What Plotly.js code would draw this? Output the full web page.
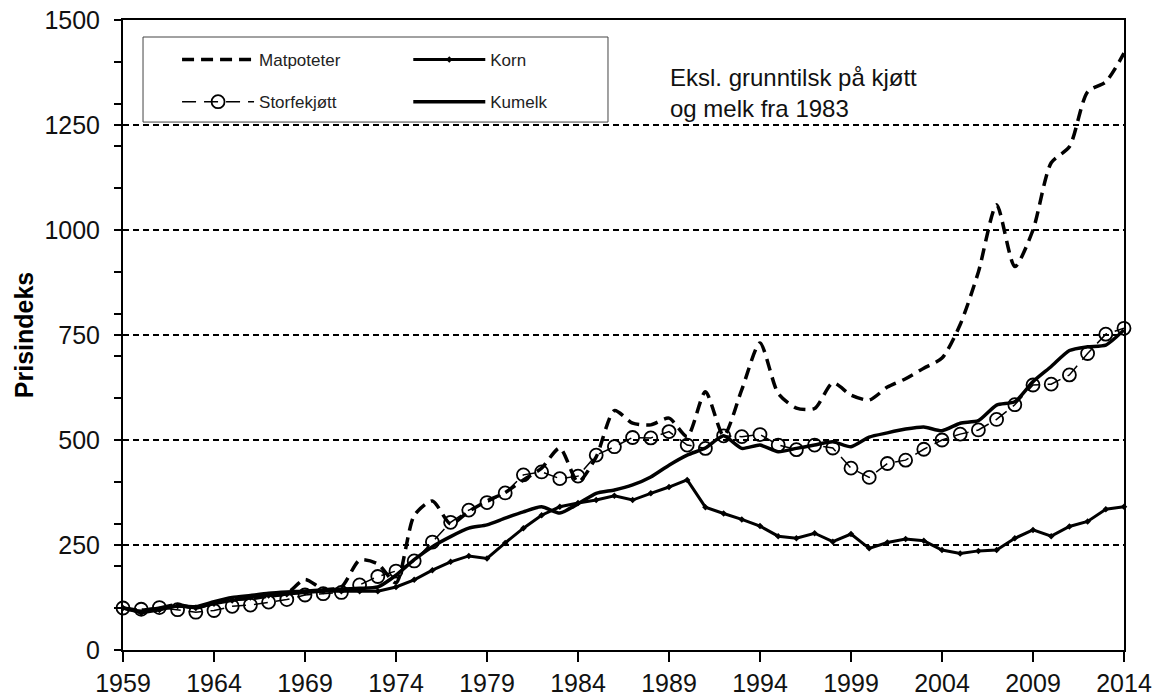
<!DOCTYPE html>
<html><head><meta charset="utf-8">
<script src="https://cdn.plot.ly/plotly-3.0.1.min.js"></script>
<style>html,body{margin:0;padding:0;background:#fff}#chart{width:1163px;height:700px}</style>
</head><body><div id="chart"></div>
<script>
const years = [1959,1960,1961,1962,1963,1964,1965,1966,1967,1968,
  1969,1970,1971,1972,1973,1974,1975,1976,1977,1978,
  1979,1980,1981,1982,1983,1984,1985,1986,1987,1988,
  1989,1990,1991,1992,1993,1994,1995,1996,1997,1998,
  1999,2000,2001,2002,2003,2004,2005,2006,2007,2008,
  2009,2010,2011,2012,2013,2014];

const matpoteter = [100,95,100,108,100,112,120,122,128,135,
  168,145,150,214,205,160,320,355,300,330,
  355,375,405,433,481,400,460,570,540,536,
  552,508,615,510,620,731,611,576,575,636,
  607,595,626,646,671,695,775,900,1060,913,
  1000,1160,1198,1329,1353,1421];

const storfekjott = [100,97,101,96,90,94,104,107,114,120,
  131,134,137,155,175,188,212,257,304,333,
  351,374,417,424,408,414,464,484,506,505,
  520,488,480,510,508,513,488,477,488,481,
  433,411,444,452,478,500,514,524,549,584,
  631,633,655,706,752,766];

const korn = [100,88,95,105,100,110,118,125,130,133,
  137,140,140,140,140,150,167,190,210,224,
  218,255,290,321,341,350,357,367,357,373,
  388,405,340,325,311,295,271,266,278,258,
  276,242,256,264,260,238,230,236,238,266,
  286,271,294,306,335,341];

const kumelk = [100,92,100,105,103,115,125,130,135,138,
  140,143,145,147,150,178,215,246,270,290,
  298,314,329,341,326,348,373,381,393,412,
  440,464,481,510,480,488,472,480,488,496,
  484,507,517,526,531,522,540,546,583,591,
  639,675,713,722,726,762];

const xTicks = [1959,1964,1969,1974,1979,1984,1989,1994,1999,2004,2009,2014];
const yMinorTicks = [0,100,200,250,300,400,500,600,700,750,800,900,1000,1100,1200,1250,1300,1400,1500];

const FONT = 'Liberation Sans, Arial, sans-serif';

const traces = [
  {x: years, y: matpoteter, name: 'Matpoteter', type: 'scatter', mode: 'lines',
   line: {color: '#000', width: 3.5, dash: '12px,7px', shape: 'spline', smoothing: 0.7},
   legend: 'legend', legendgroup: 'a', cliponaxis: false},
  {x: years, y: storfekjott, name: 'Storfekjøtt', type: 'scatter', mode: 'lines+markers',
   line: {color: '#000', width: 1.5, dash: '14px,8px'},
   marker: {symbol: 'circle-open', size: 13, color: '#000', line: {width: 1.8, color: '#000'}},
   legend: 'legend', legendgroup: 'b', cliponaxis: false},
  {x: years, y: korn, name: 'Korn', type: 'scatter', mode: 'lines+markers',
   line: {color: '#000', width: 3},
   marker: {symbol: 'diamond', size: 5, color: '#000'},
   legend: 'legend2', legendgroup: 'c', cliponaxis: false},
  {x: years, y: kumelk, name: 'Kumelk', type: 'scatter', mode: 'lines',
   line: {color: '#000', width: 3.5, shape: 'spline', smoothing: 0.6},
   legend: 'legend2', legendgroup: 'd', cliponaxis: false}
];

const legendBase = {
  yanchor: 'top', xanchor: 'left', y: 0.965,
  bgcolor: 'rgba(0,0,0,0)', borderwidth: 0,
  font: {family: FONT, size: 17, color: '#222'},
  itemwidth: 72, tracegroupgap: 17, traceorder: 'grouped'
};

const layout = {
  width: 1163, height: 700,
  margin: {l: 123, r: 39, t: 20, b: 50},
  paper_bgcolor: '#fff', plot_bgcolor: '#fff',
  font: {family: FONT, color: '#000'},
  showlegend: true,
  legend: Object.assign({}, legendBase, {x: 0.054}),
  legend2: Object.assign({}, legendBase, {x: 0.285}),
  xaxis: {
    range: [1959, 2014], tickmode: 'array', tickvals: xTicks,
    ticks: 'outside', ticklen: 10, tickwidth: 1.5, tickcolor: '#000',
    showline: true, linewidth: 2, linecolor: '#000', mirror: true,
    showgrid: false, zeroline: false,
    tickfont: {family: FONT, size: 25, color: '#111'}
  },
  yaxis: {
    range: [0, 1500], tickmode: 'linear', tick0: 0, dtick: 250,
    ticks: 'outside', ticklen: 7, tickwidth: 1.5, tickcolor: '#000',
    minor: {tickmode: 'linear', tick0: 0, dtick: 100, ticks: 'outside', ticklen: 7, tickwidth: 1.5, tickcolor: '#000', showgrid: false},
    showline: true, linewidth: 2, linecolor: '#000', mirror: true,
    showgrid: true, gridcolor: '#000', gridwidth: 1.5, griddash: '6px,4px',
    zeroline: false,
    tickfont: {family: FONT, size: 25, color: '#111'},
    ticklabelstandoff: 9,
    title: {text: '<b>Prisindeks</b>', font: {family: FONT, size: 25, color: '#000'}, standoff: 4}
  },
  yaxis2: {
    overlaying: 'y', side: 'left', range: [0, 1500],
    tickmode: 'array', tickvals: yMinorTicks,
    ticks: 'inside', ticklen: 7, tickwidth: 1.5, tickcolor: '#000',
    showticklabels: false, showgrid: false, zeroline: false, showline: false
  },
  shapes: [
    {type: 'rect', xref: 'paper', yref: 'paper', x0: 0.02, x1: 0.4845, y0: 0.838, y1: 0.973,
     line: {color: '#444', width: 1}, fillcolor: 'rgba(0,0,0,0)', layer: 'above'}
  ],
  annotations: [
    {xref: 'paper', yref: 'paper', x: 0.5445, y: 0.934, xanchor: 'left', yanchor: 'top',
     align: 'left', showarrow: false,
     text: 'Eksl. grunntilsk på kjøtt<br>og melk fra 1983',
     font: {family: FONT, size: 24, color: '#111'}}
  ]
};

Plotly.newPlot('chart', traces, layout, {displayModeBar: false, staticPlot: true});
</script>
</body></html>
